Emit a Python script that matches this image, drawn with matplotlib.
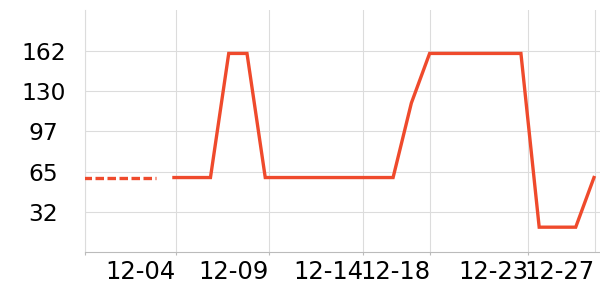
import numpy as np
import pandas as pd
import matplotlib
matplotlib.use("Agg")
import matplotlib.pyplot as plt
import matplotlib.dates as mdates

# daily values
dates = pd.date_range("2023-12-04", "2023-12-27", freq="D")
values = [60, 60, 60, 160, 160, 60, 60, 60, 60, 60, 60, 60, 60, 120,
          160, 160, 160, 160, 160, 160, 20, 20, 20, 60]

# earlier stretch drawn dashed
dash_dates = pd.date_range("2023-11-29", "2023-12-03", freq="D")
dash_values = [60, 60, 60, 60, 60]

y_ticks = [32.4, 64.8, 97.2, 129.6, 162.0]
y_labels = ["32", "65", "97", "130", "162"]

x_ticks = pd.to_datetime(["2023-11-29 03:07", "2023-12-04 02:40", "2023-12-09 04:50",
                          "2023-12-14 08:24", "2023-12-18 00:30", "2023-12-23 09:22",
                          "2023-12-27 01:10"])
x_labels = ["", "12-04", "12-09", "12-14", "12-18", "12-23", "12-27"]
x_range = pd.to_datetime(["2023-11-29 03:07", "2023-12-27 07:55"])

RED = "#ef4a2c"
GRID = "#dcdcdc"

fig = plt.figure(figsize=(6, 3), dpi=100)
ax = fig.add_axes([85 / 600, 48 / 300, 515 / 600, 242 / 300])

ax.plot(dates, values, color=RED, lw=2.4, solid_joinstyle="miter", zorder=3)
ax.plot(dash_dates, dash_values, color=RED, lw=2.4, dashes=(2.55, 1.05), zorder=3)

ax.set_xlim(mdates.date2num(x_range[0]), mdates.date2num(x_range[1]))
ax.set_ylim(0, 195)

ax.set_yticks(y_ticks)
ax.set_yticklabels(y_labels, fontsize=16.8)
for lbl in ax.get_yticklabels():
    lbl.set_horizontalalignment("center")
ax.tick_params(axis="y", length=0, pad=30)

ax.set_xticks(mdates.date2num(x_ticks))
ax.set_xticklabels(x_labels, fontsize=17.5, ha="right")
ax.tick_params(axis="x", length=2.5, width=0.8, color="#bbbbbb", pad=3.5)
ax.get_xticklines()[-2].set_visible(False)

ax.grid(True, color=GRID, lw=0.8)
ax.set_axisbelow(True)
for side in ["top", "right"]:
    ax.spines[side].set_visible(False)
ax.spines["left"].set_color(GRID)
ax.spines["left"].set_linewidth(0.8)
ax.spines["bottom"].set_color("#bbbbbb")
ax.spines["bottom"].set_linewidth(0.8)

fig.savefig("out.png", dpi=100)
